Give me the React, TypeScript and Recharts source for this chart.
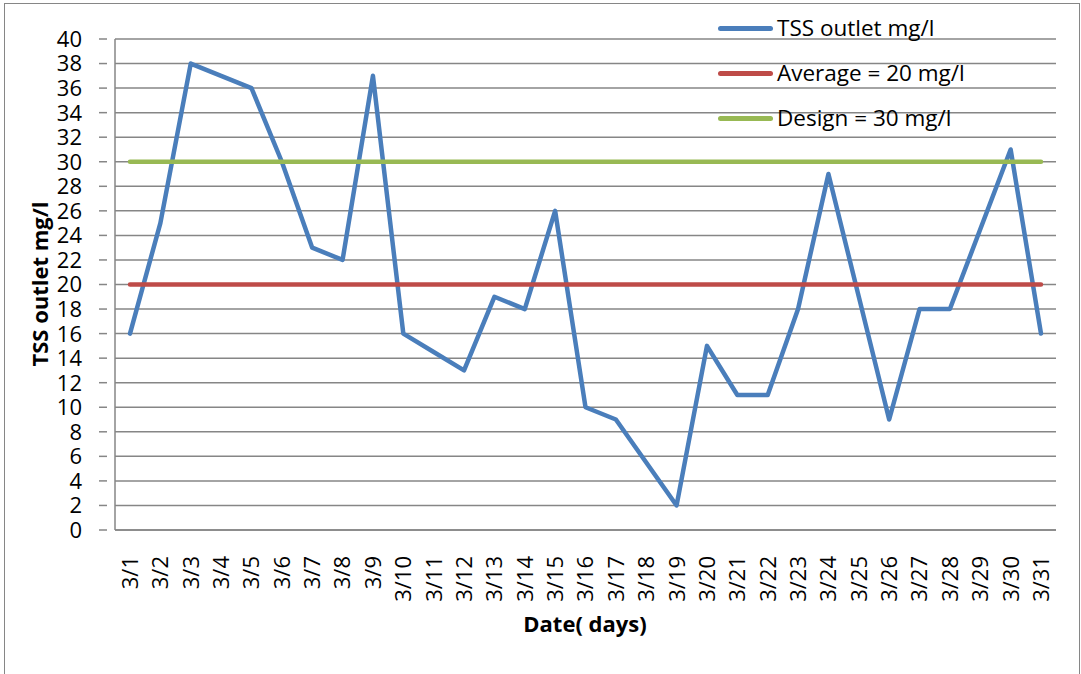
import { CartesianGrid, Line, LineChart, XAxis, YAxis } from "recharts"

const days = [
  "3/1", "3/2", "3/3", "3/4", "3/5", "3/6", "3/7", "3/8", "3/9", "3/10",
  "3/11", "3/12", "3/13", "3/14", "3/15", "3/16", "3/17", "3/18", "3/19", "3/20",
  "3/21", "3/22", "3/23", "3/24", "3/25", "3/26", "3/27", "3/28", "3/29", "3/30",
  "3/31",
]

const tssOutlet = [
  16, 25, 38, 37, 36, 30, 23, 22, 37, 16,
  14.5, 13, 19, 18, 26, 10, 9, 5.5, 2, 15,
  11, 11, 18, 29, 19, 9, 18, 18, 24.5, 31,
  16,
]

const average = [
  20, 20, 20, 20, 20, 20, 20, 20, 20, 20,
  20, 20, 20, 20, 20, 20, 20, 20, 20, 20,
  20, 20, 20, 20, 20, 20, 20, 20, 20, 20,
  20,
]

const design = [
  30, 30, 30, 30, 30, 30, 30, 30, 30, 30,
  30, 30, 30, 30, 30, 30, 30, 30, 30, 30,
  30, 30, 30, 30, 30, 30, 30, 30, 30, 30,
  30,
]

const yTicks = [0, 2, 4, 6, 8, 10, 12, 14, 16, 18, 20, 22, 24, 26, 28, 30, 32, 34, 36, 38, 40]

const data = days.map((day, i) => ({
  day,
  tss: tssOutlet[i],
  avg: average[i],
  design: design[i],
}))

const font = "'Open Sans', 'Noto Sans', sans-serif"
const gray = "#868686"

const legendItems = [
  { label: "TSS outlet mg/l", color: "#4A7EBB" },
  { label: "Average = 20 mg/l", color: "#BE4B48" },
  { label: "Design = 30 mg/l", color: "#98B954" },
]

function XTick({ x, y, payload }: any) {
  return (
    <text
      x={x}
      y={y + 18}
      transform={`rotate(-90, ${x}, ${y + 18})`}
      textAnchor="end"
      dy="0.36em"
      fontSize={22}
      fontFamily={font}
      fill="#000"
    >
      {payload.value}
    </text>
  )
}

function YTick({ x, y, payload }: any) {
  return (
    <g>
      <line x1={x - 8} x2={x} y1={y} y2={y} stroke={gray} strokeWidth={1.5} />
      <text x={x - 25} y={y} dy="0.36em" textAnchor="end" fontSize={22} fontFamily={font} fill="#000">
        {payload.value}
      </text>
    </g>
  )
}

function YTitle() {
  return (
    <text
      x={40}
      y={284}
      transform="rotate(-90, 40, 284)"
      textAnchor="middle"
      dy="0.36em"
      fontSize={22}
      fontWeight={700}
      fontFamily={font}
      fill="#000"
    >
      TSS outlet mg/l
    </text>
  )
}

function XTitle() {
  return (
    <text x={585} y={624} textAnchor="middle" dy="0.36em" fontSize={22} fontWeight={700} fontFamily={font} fill="#000">
      Date( days)
    </text>
  )
}

export default function App() {
  return (
    <div style={{ position: "absolute", left: 0, top: 0, width: 1081, height: 674, background: "#fff", overflow: "hidden" }}>
      <div
        style={{
          position: "absolute",
          left: 4,
          top: 3,
          width: 1074,
          height: 680,
          borderLeft: `1.5px solid ${gray}`,
          borderTop: `1.5px solid ${gray}`,
          borderRight: `1.5px solid ${gray}`,
        }}
      />
      <div style={{ position: "absolute", left: 0, top: 0 }}>
        <LineChart width={1081} height={674} data={data} margin={{ top: 39, right: 25, bottom: 0, left: 0 }}>
          <CartesianGrid vertical={false} stroke={gray} strokeWidth={1.5} />
          <XAxis
            dataKey="day"
            interval={0}
            height={144}
            tickLine={false}
            axisLine={{ stroke: gray, strokeWidth: 1.5 }}
            tick={<XTick />}
            padding={{ left: 15, right: 15 }}
            label={<XTitle />}
          />
          <YAxis
            domain={[0, 40]}
            ticks={yTicks}
            interval={0}
            width={115}
            tickLine={false}
            axisLine={{ stroke: gray, strokeWidth: 1.5 }}
            tick={<YTick />}
            label={<YTitle />}
          />
          <Line dataKey="tss" stroke="#4A7EBB" strokeWidth={4.5} strokeLinecap="round" strokeLinejoin="round" dot={false} isAnimationActive={false} />
          <Line dataKey="avg" stroke="#BE4B48" strokeWidth={4.5} strokeLinecap="round" dot={false} isAnimationActive={false} />
          <Line dataKey="design" stroke="#98B954" strokeWidth={4.5} strokeLinecap="round" dot={false} isAnimationActive={false} />
        </LineChart>
      </div>
      <div style={{ position: "absolute", left: 718, top: 6 }}>
        {legendItems.map((item) => (
          <div key={item.label} style={{ display: "flex", alignItems: "center", height: 45 }}>
            <div style={{ width: 55, height: 5, borderRadius: 3, background: item.color, marginRight: 4 }} />
            <span style={{ fontSize: 22.5, fontFamily: font, color: "#000", lineHeight: 1 }}>{item.label}</span>
          </div>
        ))}
      </div>
    </div>
  )
}
